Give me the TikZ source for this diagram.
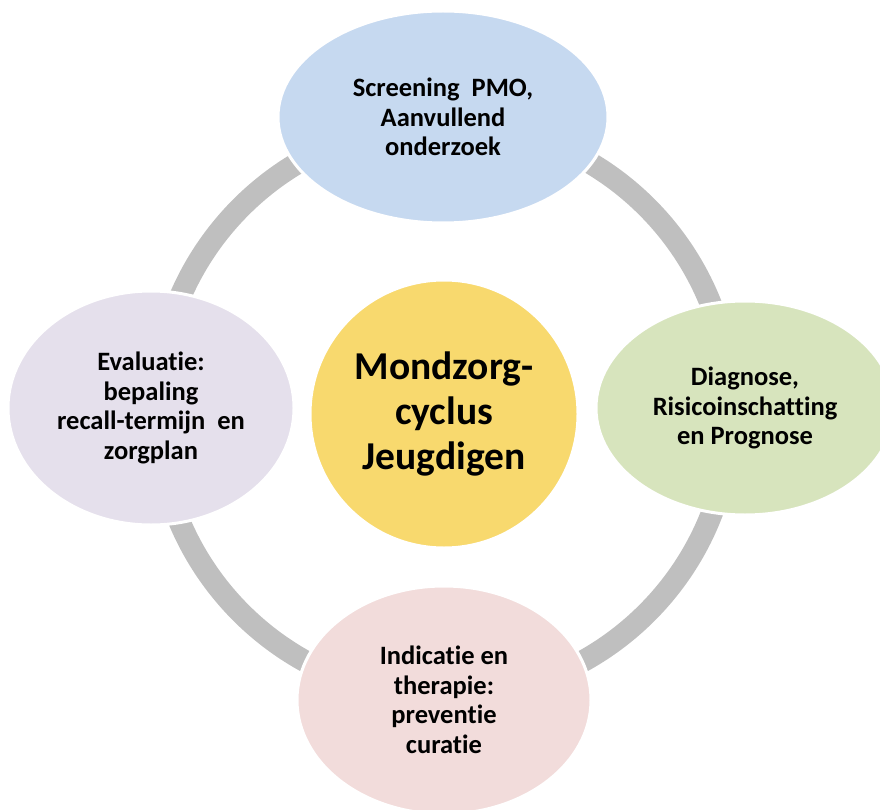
\documentclass[tikz,border=0pt]{standalone}
\usepackage{fontspec}
\setmainfont{Carlito}[Ligatures=NoCommon]
\usetikzlibrary{shapes.geometric}
\definecolor{cblue}{RGB}{198,217,240}
\definecolor{cgreen}{RGB}{215,228,189}
\definecolor{cpink}{RGB}{242,220,219}
\definecolor{clav}{RGB}{229,224,236}
\definecolor{cgold}{RGB}{248,217,110}
\definecolor{cring}{RGB}{191,191,191}
\tikzset{
  stage/.style={ellipse, draw=white, line width=3pt, inner sep=0pt, align=center,
    font=\fontsize{26.5}{29.5}\selectfont\bfseries},
  hub/.style={circle, draw=white, line width=3pt, fill=cgold, inner sep=0pt, minimum size=268pt, align=center,
    font=\fontsize{39.5}{45}\selectfont\bfseries},
  ringline/.style={draw=cring, line width=22pt}
}
\begin{document}
\begin{tikzpicture}[x=1pt,y=-1pt]
\useasboundingbox (0,0) rectangle (880,810);
\coordinate (rc) at (444,410);
\draw[ringline] (rc) circle (287);
\node[stage, fill=cblue, minimum width=330pt, minimum height=212pt] (scr) at (443,117)
  {Screening\ \ PMO,\\Aanvullend\\onderzoek};
\node[stage, fill=cgreen, minimum width=298pt, minimum height=214pt] (dia) at (745,408)
  {Diagnose,\\Risicoinschatting\\en Prognose};
\node[stage, fill=cpink, minimum width=294pt, minimum height=228pt] (ind) at (444,700)
  {Indicatie en\\therapie:\\preventie\\curatie};
\node[stage, fill=clav, minimum width=286pt, minimum height=234pt] (eva) at (151,408)
  {Evaluatie:\\bepaling\\recall-termijn\ \ en\\zorgplan};
\node[hub] (hub) at (444,414) {Mondzorg-\\cyclus\\Jeugdigen};
\end{tikzpicture}
\end{document}
